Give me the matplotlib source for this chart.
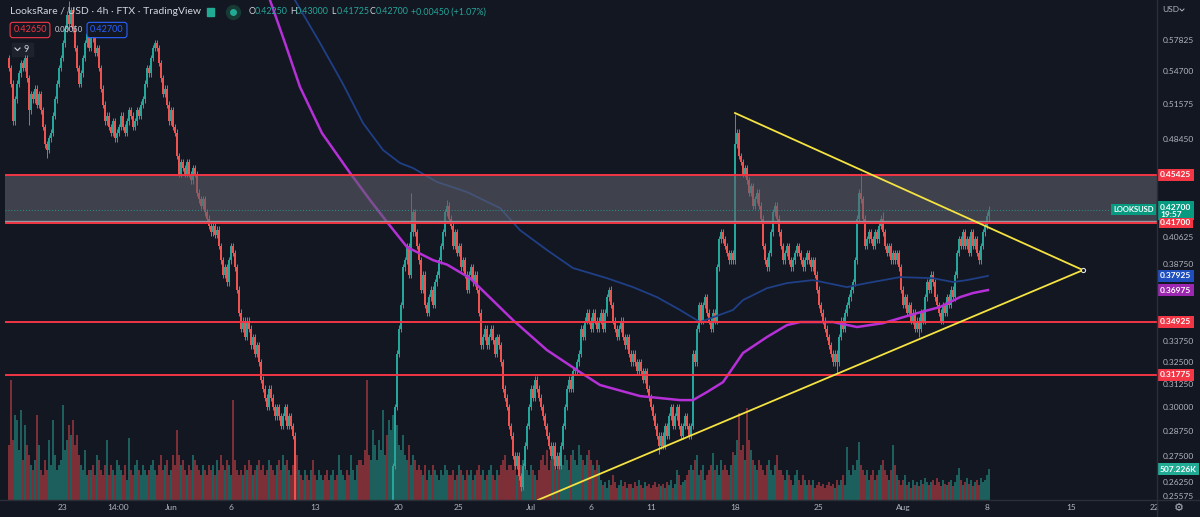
import numpy as np
import pandas as pd
import matplotlib
matplotlib.use("Agg")
import matplotlib.pyplot as plt
import matplotlib.dates as mdates
from matplotlib import transforms
from matplotlib.lines import Line2D
from matplotlib.patches import Rectangle
from matplotlib.ticker import FixedLocator, NullLocator, FormatStrFormatter

plt.rcParams['font.family'] = ['Lato', 'DejaVu Sans']

# ---- data (LOOKS/USD, FTX, 4h candles) ----
first_open = 0.56
closes = [
    0.55, 0.535, 0.50, 0.52, 0.535, 0.545, 0.555,
    0.55, 0.56, 0.54, 0.51, 0.525,
    0.52, 0.53, 0.515, 0.525, 0.51,
    0.495, 0.48, 0.475, 0.485, 0.49,
    0.505, 0.52, 0.535, 0.55, 0.56,
    0.575, 0.59, 0.605, 0.595, 0.61, 0.59, 0.57,
    0.55, 0.535, 0.545, 0.56, 0.575,
    0.585, 0.57, 0.59, 0.58, 0.565, 0.57,
    0.55, 0.53, 0.515, 0.50, 0.505,
    0.495, 0.49, 0.50, 0.485, 0.49, 0.495, 0.505, 0.495, 0.49,
    0.50, 0.51, 0.505, 0.495, 0.50, 0.51, 0.505, 0.515,
    0.52, 0.535, 0.55, 0.545, 0.56, 0.57, 0.575,
    0.57, 0.555, 0.54, 0.525, 0.53, 0.515, 0.50, 0.51, 0.495, 0.49,
    0.47, 0.455, 0.465,
    0.46, 0.455, 0.465, 0.455, 0.45, 0.46, 0.455,
    0.44, 0.435, 0.43, 0.435, 0.425,
    0.42, 0.415, 0.41, 0.415, 0.408, 0.412,
    0.40, 0.39, 0.38, 0.385, 0.375,
    0.39, 0.40, 0.395, 0.385,
    0.37, 0.355, 0.345, 0.35, 0.34,
    0.35, 0.345, 0.335, 0.34, 0.33, 0.335, 0.325,
    0.315, 0.31, 0.305, 0.30, 0.31, 0.305, 0.30, 0.295,
    0.30, 0.295, 0.29, 0.295, 0.30, 0.29, 0.295, 0.29,
    0.285, 0.25,
    # mid June: below the visible range
    0.235, 0.24, 0.23, 0.225, 0.23, 0.22,
    0.215, 0.22, 0.21, 0.205, 0.21, 0.215,
    0.22, 0.225, 0.215, 0.21, 0.20, 0.205,
    0.21, 0.20, 0.195, 0.20, 0.205, 0.21,
    0.215, 0.21, 0.205, 0.21, 0.215, 0.22,
    0.225, 0.22, 0.215, 0.21, 0.205, 0.20,
    0.195, 0.20, 0.21, 0.215, 0.22, 0.225,
    0.23, 0.235, 0.24, 0.235, 0.245, 0.25,
    0.27, 0.30, 0.33, 0.345, 0.36, 0.385, 0.39, 0.40, 0.38, 0.41, 0.425, 0.41,
    0.40, 0.39, 0.37, 0.38, 0.36, 0.355, 0.365, 0.37, 0.36, 0.375, 0.38, 0.39,
    0.40, 0.41, 0.425, 0.43, 0.42,
    0.415, 0.40, 0.41, 0.395, 0.40, 0.385, 0.39, 0.38, 0.37, 0.38, 0.385, 0.375, 0.38, 0.37,
    0.355, 0.335, 0.34, 0.345, 0.335, 0.34, 0.345, 0.338, 0.33, 0.34, 0.335, 0.325, 0.31,
    0.305, 0.30, 0.29, 0.285, 0.275, 0.27, 0.275, 0.265, 0.26, 0.27,
    0.28, 0.29, 0.30, 0.31, 0.305, 0.315, 0.31, 0.305, 0.30,
    0.295, 0.29, 0.285, 0.28, 0.275, 0.28, 0.27, 0.275, 0.27, 0.28,
    0.29, 0.30, 0.31, 0.315, 0.31, 0.32,
    0.32, 0.325, 0.33, 0.345, 0.34, 0.35, 0.355, 0.35, 0.345, 0.355,
    0.35, 0.345, 0.35, 0.355, 0.345, 0.355, 0.365, 0.37, 0.36, 0.35,
    0.345, 0.34, 0.345, 0.35, 0.34, 0.335, 0.34, 0.33, 0.325, 0.33,
    0.325, 0.32, 0.325, 0.32, 0.315, 0.32, 0.31, 0.305,
    0.30, 0.295, 0.29, 0.285, 0.28, 0.285, 0.28, 0.29, 0.285,
    0.295, 0.30, 0.29, 0.295, 0.30, 0.29, 0.285, 0.29, 0.295, 0.29, 0.285,
    0.29, 0.33, 0.325, 0.345, 0.36,
    0.35, 0.36, 0.365, 0.355, 0.35, 0.345, 0.355, 0.35, 0.385,
    0.405, 0.41, 0.405, 0.40, 0.395, 0.39, 0.395, 0.39,
    0.48, 0.49, 0.47, 0.465, 0.455, 0.46,
    0.45, 0.44, 0.445, 0.43, 0.435, 0.44, 0.43,
    0.42, 0.40, 0.39, 0.385, 0.395,
    0.41, 0.425, 0.43, 0.42, 0.41,
    0.40, 0.39, 0.395, 0.40, 0.39,
    0.385, 0.39, 0.395, 0.40, 0.395, 0.39, 0.385, 0.39, 0.395, 0.39, 0.385, 0.39,
    0.38, 0.37, 0.36, 0.355, 0.35, 0.345, 0.34,
    0.335, 0.33, 0.325, 0.33,
    0.325, 0.34, 0.35, 0.345, 0.355, 0.36, 0.365, 0.37, 0.375,
    0.39, 0.42, 0.44, 0.435,
    0.42, 0.40, 0.405, 0.41,
    0.405, 0.40, 0.41, 0.405, 0.415, 0.42, 0.41,
    0.40, 0.395, 0.40, 0.39, 0.395, 0.39, 0.395, 0.385,
    0.37, 0.36, 0.365, 0.355, 0.36,
    0.35, 0.355, 0.345, 0.35, 0.345, 0.355, 0.35,
    0.365, 0.375, 0.37, 0.38, 0.375,
    0.365, 0.36, 0.355, 0.35, 0.36,
    0.355, 0.365, 0.36, 0.37, 0.365,
    0.38, 0.395, 0.405, 0.40,
    0.41, 0.40, 0.405, 0.395, 0.41, 0.40, 0.405,
    0.395, 0.39,
    0.40, 0.41, 0.415, 0.4225, 0.427,
]

volume = [
    55, 120, 60, 85, 80, 50, 90, 40, 75, 55, 45,
    35, 30, 40, 85, 55, 30, 25, 40, 30, 60, 35, 80, 45, 30, 35,
    40, 95, 50, 60, 75, 65, 80, 55, 65, 45, 35, 30, 50, 25, 30,
    30, 35, 25, 45, 40, 30, 25, 35, 60, 25, 35, 30, 25, 40, 35,
    30, 25, 35, 20, 62, 30, 25, 35, 40, 30, 25, 35, 30, 25, 30,
    35, 40, 30, 25, 35, 45, 30, 35, 40, 25, 30, 45, 35, 70, 45,
    35, 40, 30, 25, 35, 30, 45, 40, 35, 30, 25, 35, 30, 25, 35,
    30, 35, 25, 40, 30, 45, 35, 30, 40, 35, 25, 100, 40, 30, 25,
    30, 25, 35, 30, 40, 35, 25, 30, 35, 40, 30, 35, 25, 30, 40,
    35, 30, 25, 35, 40, 30, 45, 35, 40, 30, 25, 35, 50, 45, 30,
    25, 20, 30, 25, 20, 30, 40, 25, 20, 30, 25, 20, 25, 30, 20,
    25, 30, 20, 25, 45, 30, 25, 20, 30, 25, 45, 30, 20, 35, 40,
    40, 35, 50, 120, 45, 40, 70, 55, 40, 60, 50, 90, 45, 65, 80,
    70, 85, 60, 75, 55, 50, 65, 45, 40, 55, 35, 45, 40, 30, 35,
    30, 25, 35, 20, 30, 25, 35, 30, 25, 20, 30, 25, 35, 30, 25,
    25, 30, 20, 25, 35, 30, 25, 20, 30, 25, 30, 20, 25, 30, 35,
    25, 30, 20, 25, 30, 35, 25, 20, 30, 25, 35, 40, 45, 30, 35,
    35, 30, 40, 25, 30, 35, 40, 45, 30, 25, 35, 30, 25, 20, 30,
    40, 45, 35, 50, 30, 40, 45, 35, 30, 40, 50, 35, 45, 40, 30,
    45, 50, 40, 35, 55, 45, 40, 35, 45, 50, 40, 35, 30, 40, 35,
    20, 15, 18, 12, 20, 15, 25, 18, 12, 15, 20, 14, 18, 12, 16,
    16, 12, 18, 14, 20, 15, 12, 18, 14, 16, 12, 15, 18, 13, 16,
    14, 16, 12, 18, 15, 20, 12, 16, 30, 25, 15, 18, 20, 25, 30,
    35, 30, 40, 45, 25, 30, 35, 20, 25, 30, 35, 47, 30, 35, 25,
    40, 30, 35, 30, 25, 35, 48, 45, 60, 87, 50, 55, 40, 92, 60,
    50, 40, 35, 30, 40, 35, 30, 25, 35, 40, 30, 25, 35, 45, 30,
    30, 25, 20, 30, 25, 20, 15, 25, 30, 20, 15, 25, 20, 15, 20,
    15, 20, 12, 15, 18, 14, 16, 12, 15, 18, 14, 16, 12, 20, 15,
    20, 25, 15, 53, 30, 25, 35, 30, 40, 58, 35, 30, 25, 30, 20,
    25, 30, 20, 25, 30, 35, 40, 30, 25, 20, 30, 55, 35, 25, 20,
    15, 20, 25, 15, 18, 12, 20, 15, 18, 14, 20, 16, 22, 18, 15,
    18, 20, 15, 22, 18, 14, 20, 16, 15, 18, 20, 14, 18, 25, 32,
    20, 15, 18, 22, 16, 20, 14, 18, 20, 15, 22, 18, 20, 25, 31,
]
assert len(closes) == 491, len(closes)
assert len(volume) == 491, len(volume)

# long wicks visible on the chart (candle index -> price)
wick_highs = {30: 0.62, 74: 0.578, 201: 0.44, 219: 0.434, 300: 0.372,
              363: 0.507, 426: 0.456, 437: 0.425, 490: 0.43}
wick_lows = {10: 0.497, 19: 0.468, 256: 0.258, 325: 0.276, 414: 0.318,
             455: 0.34, 490: 0.41725}

# moving averages (days after 1 Jun, price)
ma_fast_days = [8.25, 9.5, 10.75, 12.58, 14.92, 16.58, 18.0, 19.67, 21.83, 23.0,
                24.92, 28.5, 31.33, 34.08, 35.75, 39.08, 42.42, 43.5, 44.67, 46.0,
                47.67, 49.67, 51.33, 52.42, 55.17, 57.17, 59.33, 62.17, 64.08,
                65.75, 66.83, 68.08]
ma_fast = [0.621, 0.5752, 0.5317, 0.4896, 0.4559, 0.4344, 0.4176, 0.3993, 0.3901, 0.387,
           0.3777, 0.3504, 0.3321, 0.3193, 0.312, 0.3059, 0.3037, 0.3037, 0.3081,
           0.3136, 0.3304, 0.340, 0.3473, 0.3492, 0.3492, 0.3461, 0.3485, 0.3548,
           0.3587, 0.3651, 0.3678, 0.36975]
ma_slow_days = [10.33, 12.42, 14.33, 16.0, 17.67, 19.08, 20.17, 22.17, 24.67, 27.42,
                29.08, 31.33, 33.5, 36.33, 38.5, 40.5, 42.42, 44.08, 46.83, 47.67,
                49.67, 51.33, 53.5, 56.33, 58.0, 60.75, 63.5, 65.17, 66.33, 68.08]
ma_slow = [0.621, 0.5752, 0.5346, 0.4985, 0.475, 0.4641, 0.4599, 0.4486, 0.4406, 0.4282,
           0.4116, 0.3972, 0.3846, 0.3777, 0.3717, 0.3651, 0.3568, 0.3492, 0.3568,
           0.3632, 0.371, 0.3744, 0.3764, 0.3717, 0.3744, 0.3784, 0.3777, 0.3751,
           0.3764, 0.37925]

levels = [0.45425, 0.417, 0.34925, 0.31775]
zone = (0.417, 0.45425)
last_price = 0.427

# triangle trend lines (days after 1 Jun, price)
upper_line = ([47.0, 76.0], [0.5075, 0.3832])
lower_line = ([30.58, 76.0], [0.2540, 0.3832])

price_ticks = [0.57825, 0.547, 0.51575, 0.4845, 0.40625, 0.3875, 0.3375, 0.325,
               0.3125, 0.30, 0.2875, 0.275, 0.2625, 0.25575]
date_ticks = ['2022-05-23 00:00', '2022-05-27 14:00', '2022-06-01 00:00', '2022-06-06 00:00',
              '2022-06-13 00:00', '2022-06-20 00:00', '2022-06-25 00:00', '2022-07-01 00:00',
              '2022-07-06 00:00', '2022-07-11 00:00', '2022-07-18 00:00', '2022-07-25 00:00',
              '2022-08-01 00:00', '2022-08-08 00:00', '2022-08-15 00:00', '2022-08-22 00:00']
date_labels = ['23', '14:00', 'Jun', '6', '13', '20', '25', 'Jul', '6', '11', '18', '25',
               'Aug', '8', '15', '22']

# ---- style ----
BG = '#131722'
UP = '#26a69a'
DOWN = '#ef5350'
VUP = '#1d5f5c'
VDOWN = '#7c2f37'
RED = '#f23645'
TXT = '#b2b5be'
W, H = 1200, 517

t0 = pd.Timestamp('2022-06-01')
def day_num(days):
    return mdates.date2num([t0 + pd.Timedelta(days=float(d)) for d in days])

times = pd.date_range('2022-05-18 12:00', periods=len(closes), freq='4h')
x = mdates.date2num(times)
c = np.array(closes)
o = np.array([first_open] + closes[:-1])
wick = 0.006
hi = np.maximum(o, c) * (1 + wick)
lo = np.minimum(o, c) * (1 - wick)
for i, v in wick_highs.items():
    hi[i] = v
for i, v in wick_lows.items():
    lo[i] = v
up = c >= o
cols = np.where(up, UP, DOWN)
vcols = np.where(up, VUP, VDOWN)

fig = plt.figure(figsize=(W / 100, H / 100), dpi=100, facecolor=BG)
rect = [5 / W, 17 / H, 1152 / W, 500 / H]

vax = fig.add_axes(rect, facecolor=BG, zorder=0)
vax.bar(x, volume, width=0.12, color=vcols, linewidth=0)
vax.set_ylim(0, 500)
vax.axis('off')

ax = fig.add_axes(rect, facecolor='none', zorder=1)
ax.set_yscale('log')
xlim = mdates.date2num([pd.Timestamp('2022-05-18 04:00'), pd.Timestamp('2022-08-22 04:00')])
ax.set_xlim(*xlim)
vax.set_xlim(*xlim)
ax.set_ylim(0.2540, 0.6212)

ax.vlines(x, lo, hi, colors=cols, linewidth=0.7, zorder=3)
ax.bar(x, np.maximum(np.abs(c - o), 0.0008), bottom=np.minimum(o, c), width=0.11,
       color=cols, linewidth=0, zorder=3)

ax.plot(day_num(ma_slow_days), ma_slow, color='#1f3f86', lw=1.3, zorder=4)
ax.plot(day_num(ma_fast_days), ma_fast, color='#b530d6', lw=1.8, zorder=4)

# zone box
ax.axhspan(zone[0], zone[1], color='#5d606b', alpha=0.6, lw=0, zorder=5)
ax.axhline(0.4183, color='#9598a1', lw=1.0, zorder=5)
for lv in levels:
    ax.axhline(lv, color=RED, lw=1.4, zorder=6)
ax.axhline(last_price, color=UP, lw=0.7, ls=(0, (1, 2)), alpha=0.8, zorder=6)

ax.plot(day_num(upper_line[0]), upper_line[1], color='#f5e342', lw=1.3, zorder=7)
ax.plot(day_num(lower_line[0]), lower_line[1], color='#f5e342', lw=1.3, zorder=7)
ax.plot(day_num([upper_line[0][1]]), [upper_line[1][1]], 'o', ms=3, mfc=BG,
        mec='#e0e0e0', mew=0.8, zorder=8)

for s in ax.spines.values():
    s.set_visible(False)
ax.yaxis.tick_right()
ax.yaxis.set_major_locator(FixedLocator(price_ticks))
ax.yaxis.set_minor_locator(NullLocator())
ax.yaxis.set_major_formatter(FormatStrFormatter('%.5f'))
ax.set_xticks(mdates.date2num(pd.to_datetime(date_ticks, format='%Y-%m-%d %H:%M')))
ax.set_xticklabels(date_labels)
ax.tick_params(axis='both', length=0, labelcolor=TXT, labelsize=6)
ax.tick_params(axis='y', pad=4)
ax.tick_params(axis='x', pad=3)

# separators
fig.add_artist(Line2D([1157 / W] * 2, [0, 1], color='#2a2e39', lw=1))
fig.add_artist(Line2D([0, 1], [17 / H] * 2, color='#2a2e39', lw=1))

# price tags on the axis
ytrans = transforms.blended_transform_factory(ax.transAxes, ax.transData)
def tag(price, text, color, pad=0.3):
    ax.text(1.0 + 3 / 1152, price, text, transform=ytrans, ha='left', va='center',
            fontsize=6, color='white', fontweight='bold', clip_on=False, zorder=20,
            bbox=dict(boxstyle='square,pad=%s' % pad, fc=color, ec='none'))

tag(levels[0], '0.45425', RED)
tag(0.37925, '0.37925', '#1f4fbf')
tag(0.36975, '0.36975', '#9c27b0')
tag(levels[2], '0.34925', RED)
tag(levels[3], '0.31775', RED)
ax.text(1.0 + 3 / 1152, last_price, '0.42700\n19:57',
        transform=transforms.offset_copy(ytrans, fig=fig, y=6, units='dots'),
        ha='left', va='top', fontsize=6, color='white', fontweight='bold',
        linespacing=1.05, clip_on=False, zorder=20,
        bbox=dict(boxstyle='square,pad=0.3', fc='#089981', ec='none'))
tag(levels[1], '0.41700', RED, pad=0.15)
ax.text(1.0 - 3 / 1152, last_price, 'LOOKSUSD', transform=ytrans, ha='right',
        va='center', fontsize=5.5, color='white', fontweight='bold', clip_on=False,
        zorder=20, bbox=dict(boxstyle='square,pad=0.3', fc='#089981', ec='none'))
vtrans = transforms.blended_transform_factory(vax.transAxes, vax.transData)
vax.text(1.0 + 3 / 1152, volume[-1], '507.226K', transform=vtrans, ha='left',
         va='center', fontsize=6, color='white', fontweight='bold', clip_on=False,
         zorder=20, bbox=dict(boxstyle='square,pad=0.3', fc='#22ab94', ec='none'))

# ---- header ----
def ftext(px, py, s, **kw):
    fig.text(px / W, 1 - py / H, s, va='center', **kw)

ftext(10, 12, 'LooksRare / USD · 4h · FTX · TradingView', color='#d1d4dc', fontsize=7.5)
fig.add_artist(Rectangle((207 / W, 1 - 16 / H), 7 / W, 8 / H, color='#22ab94',
                         transform=fig.transFigure))
fig.add_artist(Line2D([233 / W], [1 - 12 / H], marker='o', ms=10, color='#173a35', lw=0))
fig.add_artist(Line2D([233 / W], [1 - 12 / H], marker='o', ms=4, color='#22ab94', lw=0))
for px, letter, val in [(249, 'O', '0.42250'), (290, 'H', '0.43000'),
                        (331, 'L', '0.41725'), (370, 'C', '0.42700')]:
    ftext(px, 12, letter, color='#d1d4dc', fontsize=6.4)
    ftext(px + 5.5, 12, val, color=UP, fontsize=6.4)
ftext(411, 12, '+0.00450 (+1.07%)', color=UP, fontsize=6.4)

ftext(30, 30, '0.42650', color=RED, fontsize=6.5, ha='center',
      bbox=dict(boxstyle='round,pad=0.35,rounding_size=0.3', fc=BG, ec=RED, lw=0.8))
ftext(69, 30, '0.00050', color='#d1d4dc', fontsize=5.5, ha='center')
ftext(107, 30, '0.42700', color='#2962ff', fontsize=6.5, ha='center',
      bbox=dict(boxstyle='round,pad=0.35,rounding_size=0.3', fc=BG, ec='#2962ff', lw=0.8))
fig.add_artist(Rectangle((12 / W, 1 - 56 / H), 21 / W, 13 / H, color='#1e222d',
                         transform=fig.transFigure))
fig.add_artist(Line2D([15 / W, 17.5 / W, 20 / W], [1 - 48 / H, 1 - 50.5 / H, 1 - 48 / H],
                      color='#d1d4dc', lw=0.8))
ftext(23, 49.5, '9', color='#d1d4dc', fontsize=6.5)

ftext(1162, 10, 'USD', color=TXT, fontsize=6)
fig.add_artist(Line2D([1180 / W, 1182 / W, 1184 / W], [1 - 9 / H, 1 - 11 / H, 1 - 9 / H],
                      color=TXT, lw=0.7))
ftext(1179, 508, '\u2699', color=TXT, fontsize=8, ha='center', family='DejaVu Sans')

fig.savefig('out.png', dpi=100, facecolor=BG)
